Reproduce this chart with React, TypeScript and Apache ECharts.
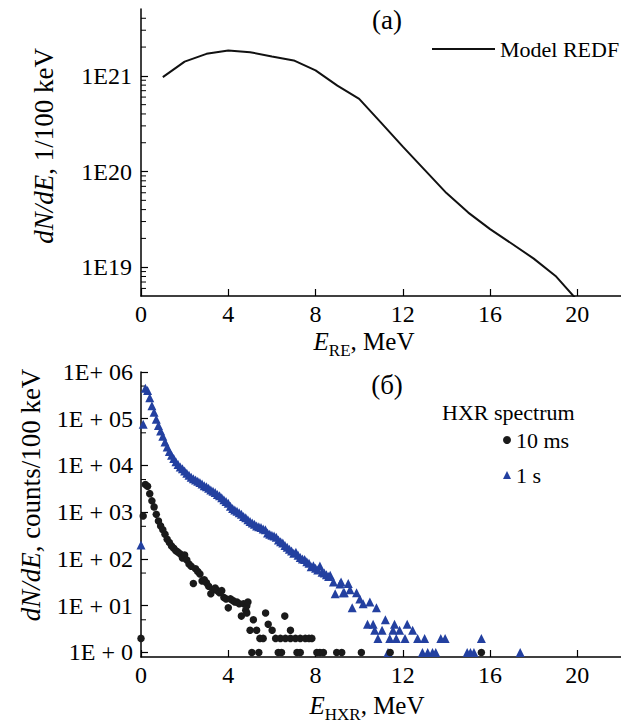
import React, { useEffect, useRef } from "react";
import * as echarts from "echarts";

const FONT = "'Liberation Serif', 'Times New Roman', Times, 'DejaVu Serif', serif";

// (a) Model runaway-electron distribution function
const redfEnergy = [1, 2, 3, 4, 5, 6, 7, 8, 9, 10, 11, 12, 13, 14, 15, 16, 17, 18, 19, 20];
const redfDensity = [
  9.7e20, 1.41e21, 1.7e21, 1.84e21, 1.77e21, 1.59e21, 1.45e21, 1.14e21, 7.9e20, 5.75e20,
  3.25e20, 1.82e20, 1.04e20, 5.95e19, 3.72e19, 2.5e19, 1.76e19, 1.23e19, 8.1e18, 4.5e18,
];

// (б) HXR spectrum, 1 s
const hxr1sEnergy = [
  0.0, 0.1, 0.2, 0.3, 0.4, 0.5, 0.6, 0.7, 0.8, 0.9,
  1.0, 1.1, 1.2, 1.3, 1.4, 1.5, 1.6, 1.7, 1.8, 1.9,
  2.0, 2.1, 2.2, 2.3, 2.4, 2.5, 2.6, 2.7, 2.8, 2.9,
  3.0, 3.1, 3.2, 3.3, 3.4, 3.5, 3.6, 3.7, 3.8, 3.9,
  4.0, 4.1, 4.2, 4.3, 4.4, 4.5, 4.6, 4.7, 4.8, 4.9,
  5.0, 5.1, 5.2, 5.3, 5.4, 5.5, 5.6, 5.7, 5.8, 5.9,
  6.0, 6.1, 6.2, 6.3, 6.4, 6.5, 6.6, 6.7, 6.8, 6.9,
  7.0, 7.1, 7.2, 7.3, 7.4, 7.5, 7.6, 7.7, 7.8, 7.9,
  8.0, 8.1, 8.2, 8.3, 8.4, 8.5, 8.6, 8.67, 8.82, 8.9,
  9.12, 9.17, 9.27, 9.32, 9.5, 9.58, 9.68, 9.88, 10.03, 10.18,
  10.38, 10.49, 10.64, 10.71, 10.79, 10.86, 11.05, 11.2, 11.32, 11.4,
  11.55, 11.62, 11.7, 11.85, 12.1, 12.2, 12.45, 12.68, 12.9, 13.0,
  13.14, 13.36, 13.51, 13.74, 13.94, 14.95, 15.1, 15.26, 15.6, 17.38,
];
const hxr1sCounts = [
  200, 76000, 450000, 400000, 280000, 190000, 138000, 98000, 72000, 55000,
  42000, 32000, 25000, 20000, 16600, 14100, 12000, 10500, 9300, 8500,
  7600, 6800, 6200, 5600, 5200, 4900, 4600, 4300, 4000, 3700,
  3500, 3250, 3000, 2800, 2650, 2400, 2250, 2050, 1850, 1700,
  1550, 1350, 1200, 1120, 1050, 980, 900, 810, 760, 690,
  630, 590, 550, 510, 490, 470, 440, 420, 360, 340,
  320, 310, 290, 255, 235, 220, 195, 178, 162, 148,
  132, 140, 120, 107, 100, 98, 87, 81, 68, 72,
  63, 58, 71, 52, 50, 46, 42, 45, 32, 18,
  29, 32, 19, 19, 30, 22, 9, 19, 14, 11,
  4, 12, 4, 3, 9, 2, 3, 5, 1, 2,
  3, 4, 2, 3, 2, 4, 3, 2, 1, 2,
  1, 1, 1, 2, 2, 1, 1, 1, 2, 1,
];

// (б) HXR spectrum, 10 ms
const hxr10msEnergy = [
  0.0, 0.1, 0.2, 0.3, 0.4, 0.5, 0.6, 0.7, 0.8, 0.9,
  1.0, 1.1, 1.2, 1.3, 1.4, 1.5, 1.6, 1.7, 1.8, 1.9,
  2.0, 2.1, 2.2, 2.3, 2.4, 2.5, 2.6, 2.7, 2.8, 2.9,
  3.0, 3.1, 3.2, 3.3, 3.4, 3.5, 3.6, 3.7, 3.8, 3.9,
  4.0, 4.1, 4.2, 4.3, 4.4, 4.5, 4.6, 4.7, 4.8, 4.85,
  4.85, 4.9, 5.0, 5.08, 5.15, 5.3, 5.4, 5.45, 5.6, 5.71,
  5.83, 6.01, 6.17, 6.29, 6.39, 6.44, 6.59, 6.62, 6.85, 6.85,
  7.08, 7.15, 7.3, 7.3, 7.53, 7.7, 7.83, 8.06, 8.2, 8.36,
  8.97, 9.2, 10.1, 11.42, 15.6,
];
const hxr10msCounts = [
  2, 830, 3900, 3600, 2500, 1750, 1300, 900, 650, 510,
  420, 340, 265, 225, 190, 170, 150, 140, 128, 105,
  122, 95, 78, 70, 30, 62, 54, 48, 34, 36,
  31, 26, 18, 22, 24, 21, 19, 21, 15, 14,
  9, 14, 13, 12, 12, 11, 6, 11, 8, 10,
  7, 12, 3, 1, 5, 3, 1, 2, 2, 7,
  4, 3, 2, 1, 2, 1, 6, 2, 3, 2,
  2, 1, 2, 1, 2, 2, 2, 1, 1, 1,
  1, 1, 1, 1, 1,
];

// minor ticks of the logarithmic axes
const topMinorTicks = [
  6e18, 7e18, 8e18, 9e18,
  2e19, 3e19, 4e19, 5e19, 6e19, 7e19, 8e19, 9e19,
  2e20, 3e20, 4e20, 5e20, 6e20, 7e20, 8e20, 9e20,
  2e21, 3e21, 4e21,
];
const bottomMinorTicks = [5, 50, 500, 5000, 50000, 500000];
const bottomTickLabels = ["1E + 0", "1E + 01", "1E + 02", "1E + 03", "1E + 04", "1E + 05", "1E+ 06"];

const zip = (xs: number[], ys: number[]) => xs.map((x, i) => [x, ys[i]]);

const minorTickItem = (_params: any, api: any) => {
  const p = api.coord([api.value(0), api.value(1)]);
  return {
    type: "line",
    shape: { x1: p[0], y1: p[1], x2: p[0] + 5, y2: p[1] },
    style: { stroke: "#000", lineWidth: 1 },
  };
};

const axisLineStyle = { color: "#000", width: 1.5 };

const xAxisBase = (gridIndex: number) => ({
  gridIndex,
  type: "value",
  min: 0,
  max: 22,
  interval: 4,
  axisLine: { show: true, lineStyle: axisLineStyle },
  axisTick: { show: true, inside: true, length: 7, lineStyle: { color: "#000", width: 1.2 } },
  axisLabel: { color: "#000", fontSize: 24, fontFamily: FONT, margin: 6, showMaxLabel: false },
  splitLine: { show: false },
});

const subRich = {
  e: { fontSize: 25, fontFamily: FONT, fontStyle: "italic", lineHeight: 25, verticalAlign: "top", fill: "#000" },
  s: { fontSize: 17, fontFamily: FONT, lineHeight: 17, padding: [13, 0, 0, 0], verticalAlign: "top", fill: "#000" },
  n: { fontSize: 25, fontFamily: FONT, lineHeight: 25, verticalAlign: "top", fill: "#000" },
};

const yNameRich = {
  i: { fontSize: 27, fontFamily: FONT, fontStyle: "italic", fill: "#000" },
  n: { fontSize: 27, fontFamily: FONT, fill: "#000" },
};

export default function App() {
  const ref = useRef<HTMLDivElement>(null);

  useEffect(() => {
    if (!ref.current) return;
    const chart = echarts.init(ref.current, undefined, { renderer: "svg" });

    const option: any = {
      animation: false,
      backgroundColor: "#fff",
      textStyle: { fontFamily: FONT },
      grid: [
        { left: 141, top: 9, width: 484, height: 287 },
        { left: 141, top: 372, width: 484, height: 285 },
      ],
      xAxis: [xAxisBase(0), xAxisBase(1)],
      yAxis: [
        {
          gridIndex: 0,
          type: "log",
          logBase: 10,
          min: 5e18,
          max: 5e21,
          axisLine: { show: true, lineStyle: axisLineStyle },
          axisTick: { show: true, inside: true, length: 7, lineStyle: { color: "#000", width: 1.2 } },
          axisLabel: {
            color: "#000",
            fontSize: 24,
            fontFamily: FONT,
            margin: 9,
            showMinLabel: false,
            showMaxLabel: false,
            formatter: (v: number) => "1E" + Math.round(Math.log10(v)),
          },
          splitLine: { show: false },
        },
        {
          gridIndex: 1,
          type: "log",
          logBase: 10,
          min: 0.8,
          max: 1e6,
          axisLine: { show: true, lineStyle: axisLineStyle },
          axisTick: { show: true, inside: true, length: 7, lineStyle: { color: "#000", width: 1.2 } },
          axisLabel: {
            color: "#000",
            fontSize: 24,
            fontFamily: FONT,
            margin: 8,
            showMinLabel: false,
            formatter: (v: number) => bottomTickLabels[Math.round(Math.log10(v))] ?? "",
          },
          splitLine: { show: false },
        },
      ],
      legend: [
        {
          data: ["Model REDF"],
          left: 432,
          top: 34.5,
          padding: 0,
          selectedMode: false,
          icon: "rect",
          itemWidth: 63,
          itemHeight: 2,
          itemStyle: { color: "#111" },
          textStyle: { color: "#000", fontSize: 22, fontFamily: FONT, lineHeight: 22, padding: [7, 0, 0, 0] },
        },
        {
          data: ["10 ms", "1 s"],
          orient: "vertical",
          left: 503,
          top: 429,
          padding: 0,
          selectedMode: false,
          itemWidth: 8,
          itemHeight: 8,
          itemGap: 13,
          textStyle: { color: "#000", fontSize: 22, fontFamily: FONT, lineHeight: 22 },
        },
      ],
      series: [
        {
          name: "Model REDF",
          type: "line",
          xAxisIndex: 0,
          yAxisIndex: 0,
          data: zip(redfEnergy, redfDensity),
          symbol: "none",
          showSymbol: false,
          clip: true,
          lineStyle: { color: "#111", width: 2 },
          itemStyle: { color: "#111" },
        },
        {
          type: "custom",
          xAxisIndex: 0,
          yAxisIndex: 0,
          silent: true,
          clip: false,
          data: topMinorTicks.map((v) => [0, v]),
          renderItem: minorTickItem,
        },
        {
          name: "1 s",
          type: "scatter",
          xAxisIndex: 1,
          yAxisIndex: 1,
          data: zip(hxr1sEnergy, hxr1sCounts),
          symbol: "triangle",
          symbolSize: 9,
          itemStyle: { color: "#2340a0", opacity: 1 },
        },
        {
          name: "10 ms",
          type: "scatter",
          xAxisIndex: 1,
          yAxisIndex: 1,
          data: zip(hxr10msEnergy, hxr10msCounts),
          symbol: "circle",
          symbolSize: 7.5,
          itemStyle: { color: "#1a1a1a", opacity: 1 },
        },
        {
          type: "custom",
          xAxisIndex: 1,
          yAxisIndex: 1,
          silent: true,
          clip: false,
          data: bottomMinorTicks.map((v) => [0, v]),
          renderItem: minorTickItem,
        },
      ],
      graphic: [
        {
          type: "text",
          x: 387,
          y: 20,
          style: { text: "(a)", fontSize: 27, fontFamily: FONT, fill: "#000", align: "center", verticalAlign: "middle" },
        },
        {
          type: "text",
          x: 387,
          y: 385,
          style: { text: "(б)", fontSize: 27, fontFamily: FONT, fill: "#000", align: "center", verticalAlign: "middle" },
        },
        {
          type: "text",
          x: 442,
          y: 412,
          style: { text: "HXR spectrum", fontSize: 22, fontFamily: FONT, fill: "#000", align: "left", verticalAlign: "middle" },
        },
        {
          type: "text",
          x: 364,
          y: 329,
          style: { text: "{e|E}{s|RE}{n|, MeV}", align: "center", verticalAlign: "top", fill: "#000", rich: subRich },
        },
        {
          type: "text",
          x: 367,
          y: 693,
          style: { text: "{e|E}{s|HXR}{n|, MeV}", align: "center", verticalAlign: "top", fill: "#000", rich: subRich },
        },
        {
          type: "text",
          x: 44,
          y: 146,
          rotation: Math.PI / 2,
          style: { text: "{i|dN/dE}{n|, 1/100 keV}", align: "center", verticalAlign: "middle", fill: "#000", rich: yNameRich },
        },
        {
          type: "text",
          x: 31,
          y: 495,
          rotation: Math.PI / 2,
          style: { text: "{i|dN/dE}{n|, counts/100 keV}", align: "center", verticalAlign: "middle", fill: "#000", rich: yNameRich },
        },
      ],
    };

    chart.setOption(option);
    return () => chart.dispose();
  }, []);

  return (
    <div
      ref={ref}
      style={{ position: "absolute", left: 0, top: 0, width: 621, height: 723, background: "#fff" }}
    />
  );
}
